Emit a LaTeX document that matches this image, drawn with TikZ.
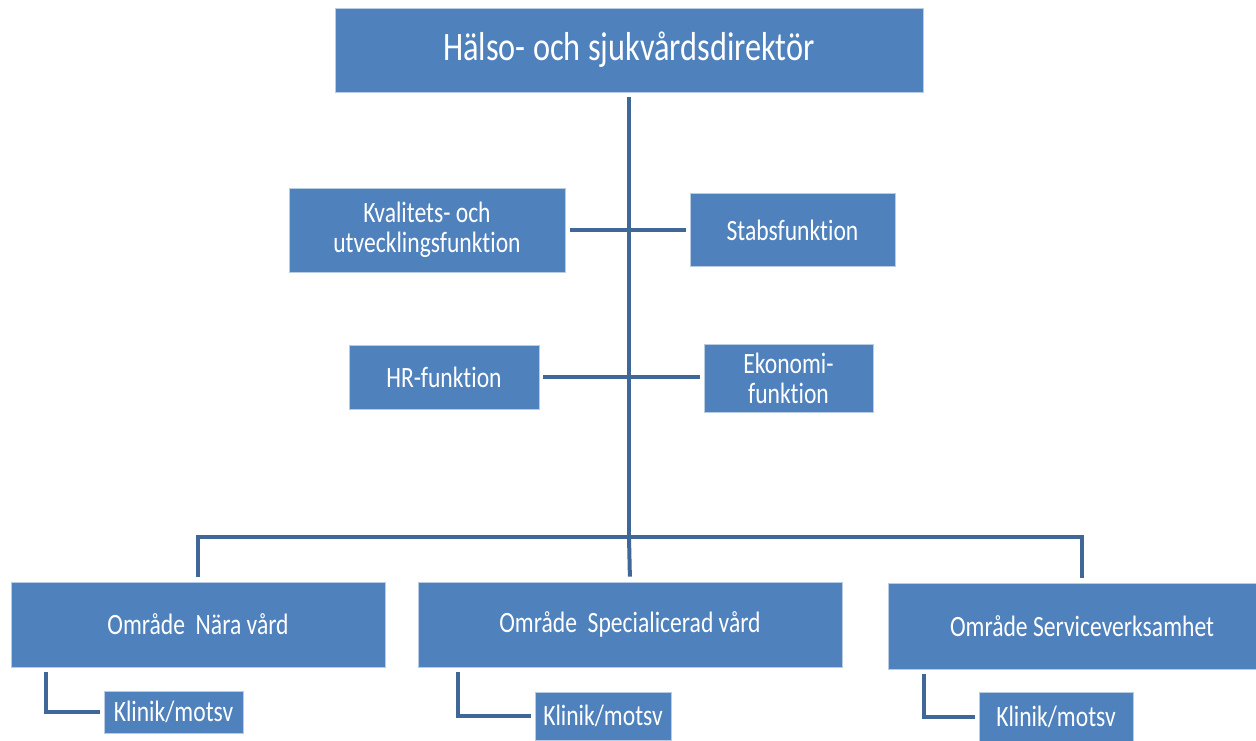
\documentclass[tikz,border=0pt]{standalone}
\usepackage{fontspec}
\setmainfont{Carlito}[FakeStretch=0.8, Ligatures=NoCommon]
\usetikzlibrary{calc}
\definecolor{boxblue}{HTML}{4F81BD}
\definecolor{boxedge}{HTML}{B8CCE4}
\definecolor{linkblue}{HTML}{3F6797}
\begin{document}
\begin{tikzpicture}[x=1pt,y=-1pt,
  orgbox/.style={rectangle, fill=boxblue, draw=boxedge, line width=0.8pt, text=white,
    inner sep=0pt, align=center, font=\fontsize{29.5}{30}\selectfont},
  conn/.style={draw=linkblue, line width=4pt}]
\clip (0,0) rectangle (1256,740);
\fill[white] (0,0) rectangle (1256,740);
% boxes
\node[orgbox, minimum width=588pt, minimum height=84pt, font=\fontsize{40.4}{44}\selectfont] (top) at (629,50) {Hälso- och sjukvårdsdirektör};
\node[orgbox, minimum width=276pt, minimum height=84pt] (kval) at (427,230) {Kvalitets- och\\utvecklingsfunktion};
\node[orgbox, minimum width=205pt, minimum height=73pt] (stab) at (792.5,230) {Stabsfunktion};
\node[orgbox, minimum width=190pt, minimum height=64pt] (hr) at (444,377) {HR-funktion};
\node[orgbox, minimum width=169pt, minimum height=68pt] (eko) at (788.5,378) {Ekonomi-\\funktion};
\node[orgbox, minimum width=374pt, minimum height=85pt] (b1) at (198,624.5) {Område\ \ Nära vård};
\node[orgbox, minimum width=424pt, minimum height=85pt] (b2) at (630,624.5) {Område\ \ Specialicerad vård};
\node[orgbox, minimum width=388pt, minimum height=86pt] (b3) at (1082,626) {Område Serviceverksamhet};
\node[orgbox, minimum width=139pt, minimum height=42pt] (k1) at (173.5,712) {Klinik/motsv};
\node[orgbox, minimum width=136pt, minimum height=48pt] (k2) at (603,716) {Klinik/motsv};
\node[orgbox, minimum width=154pt, minimum height=50pt] (k3) at (1056,717) {Klinik/motsv};
% helper coordinates
\coordinate (bus) at (629,537);
\coordinate (k1c) at (46,713);
\coordinate (k2c) at (458,716);
\coordinate (k3c) at (924,717);
% connectors
\draw[conn, shorten <=5pt] (top.south) -- (bus);
\draw[conn, shorten <=5pt, shorten >=4pt] (kval.east) -- (kval.east -| stab.west);
\draw[conn, shorten <=4pt, shorten >=4pt] (hr.east) -- (hr.east -| eko.west);
\draw[conn, shorten <=5pt, shorten >=5pt] (b1.north) |- (bus) -| (b3.north);
\draw[conn, shorten >=5pt] (bus) -- (b2.north);
\draw[conn, shorten <=5pt, shorten >=4pt] (b1.south -| k1c) |- (k1.west);
\draw[conn, shorten <=5pt, shorten >=4pt] (b2.south -| k2c) |- (k2.west);
\draw[conn, shorten <=5pt, shorten >=4pt] (b3.south -| k3c) |- (k3.west);
\end{tikzpicture}
\end{document}
